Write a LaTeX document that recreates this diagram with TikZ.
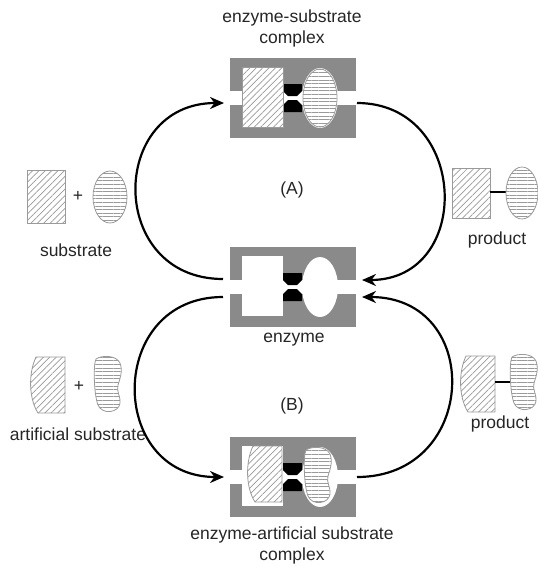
\documentclass[tikz,border=0pt]{standalone}
\usepackage{fontspec}
\setmainfont{Liberation Sans}
\usetikzlibrary{arrows.meta,patterns.meta}
\definecolor{blk}{HTML}{8A8A8A}
\definecolor{hat}{HTML}{9A9A9A}
\definecolor{txt}{HTML}{262626}
\begin{document}
\begin{tikzpicture}[x=1pt,y=-1pt,
  lbl/.style={font=\fontsize{17.5}{20}\selectfont, text=txt, inner sep=0pt},
  block/.style={fill=blk, draw=none, minimum width=126pt, minimum height=80pt, inner sep=0pt},
  diag/.style={preaction={fill=white}, pattern={Lines[angle=45,distance=4.5pt,line width=0.7pt]}, pattern color=hat, draw=hat, line width=0.8pt},
  hor/.style={preaction={fill=white}, pattern={Lines[angle=0,distance=3.6pt,line width=0.7pt]}, pattern color=hat, draw=hat, line width=0.8pt},
  arr/.style={line width=2.2pt, -{Stealth[length=14pt,width=12pt]}},
  bond/.style={line width=2.2pt},
  dshape/.pic={\path[diag] (35,0) -- (6,0) .. controls (-2,17) and (-1,42) .. (8,56) -- (35,56) -- cycle;},
  kidney/.pic={\path[hor] (-12,-26) .. controls (-6,-30) and (8,-30) .. (12,-22)
     .. controls (15,-14) and (12,-6) .. (10,0)
     .. controls (8,6) and (13,12) .. (12,18)
     .. controls (11,28) and (-6,30) .. (-10,20)
     .. controls (-14,10) and (-15,-20) .. (-12,-26) -- cycle;}
]
\useasboundingbox (0,0) rectangle (538,566);
\fill[white] (0,0) rectangle (538,566);

\newcommand\enzymeparts[1]{%
 \begin{scope}[shift={(0,#1)}]
  \fill[white] (230,33) rectangle (356,47);
  \fill[white] (242,9) rectangle (283,69);
  \fill[white] (320,40) ellipse [x radius=18, y radius=30];
  \fill[black] (283,26) -- (302,26) -- (302,33) -- (297,38) -- (288,38) -- (283,33) -- cycle;
  \fill[black] (283,54) -- (302,54) -- (302,47) -- (297,42) -- (288,42) -- (283,47) -- cycle;
 \end{scope}}

% enzyme-substrate complex
\node[block] (es) at (293,98) {};
\enzymeparts{58}
\path[diag] (242,67) rectangle (283,127);
\path[hor] (320,98) ellipse [x radius=17, y radius=29];

% enzyme
\node[block] (en) at (293,287) {};
\enzymeparts{247}

% enzyme-artificial substrate complex
\node[block] (ea) at (293,477) {};
\enzymeparts{437}
\pic at (247,446) {dshape};
\pic at (318,476) {kidney};

% free substrate
\path[diag] (27,170) rectangle (65,223);
\node[lbl] (plus1) at (78,196) {+};
\path[hor] (110,197) ellipse [x radius=17, y radius=26];

% product top
\path[diag] (452,168) rectangle (490,218);
\coordinate (pb1) at (490,192);
\coordinate (pb2) at (506,192);
\draw[bond] (pb1) -- (pb2);
\path[hor] (522,193) ellipse [x radius=16, y radius=26];

% artificial substrate
\pic at (30,357) {dshape};
\node[lbl] (plus2) at (79,386) {+};
\pic at (108,385) {kidney};

% product bottom
\pic at (460,356) {dshape};
\coordinate (pb3) at (495,382);
\coordinate (pb4) at (512,382);
\draw[bond] (pb3) -- (pb4);
\pic at (524,383) {kidney};

% labels
\node[lbl] (t1) at (292,18) {enzyme-substrate};
\node[lbl] (t2) at (292,39) {complex};
\node[lbl] (tA) at (292,190) {(A)};
\node[lbl] (tsub) at (76,250) {substrate};
\node[lbl] (tp1) at (497,240) {product};
\node[lbl] (tenz) at (294,340) {enzyme};
\node[lbl] (tB) at (292,406) {(B)};
\node[lbl] (tart) at (78,434) {artificial substrate};
\node[lbl] (tp2) at (500,424) {product};
\node[lbl] (t3) at (292,535) {enzyme-artificial substrate};
\node[lbl] (t4) at (292,556) {complex};

% arrows
\coordinate (esL) at (224,103);
\coordinate (esR) at (357,103);
\coordinate (enL1) at (223,279);
\coordinate (enL2) at (223,297);
\coordinate (enR1) at (362,280);
\coordinate (enR2) at (362,297);
\coordinate (eaL) at (224,477);
\coordinate (eaR) at (357,477);
\draw[arr] (enL1) .. controls +(-116,0) and +(-116,0) .. (esL);
\draw[arr] (esR) .. controls +(112,0) and +(112,0) .. (enR1);
\draw[arr] (enL2) .. controls +(-117,0) and +(-117,0) .. (eaL);
\draw[arr] (eaR) .. controls +(122,0) and +(122,0) .. (enR2);
\end{tikzpicture}
\end{document}
